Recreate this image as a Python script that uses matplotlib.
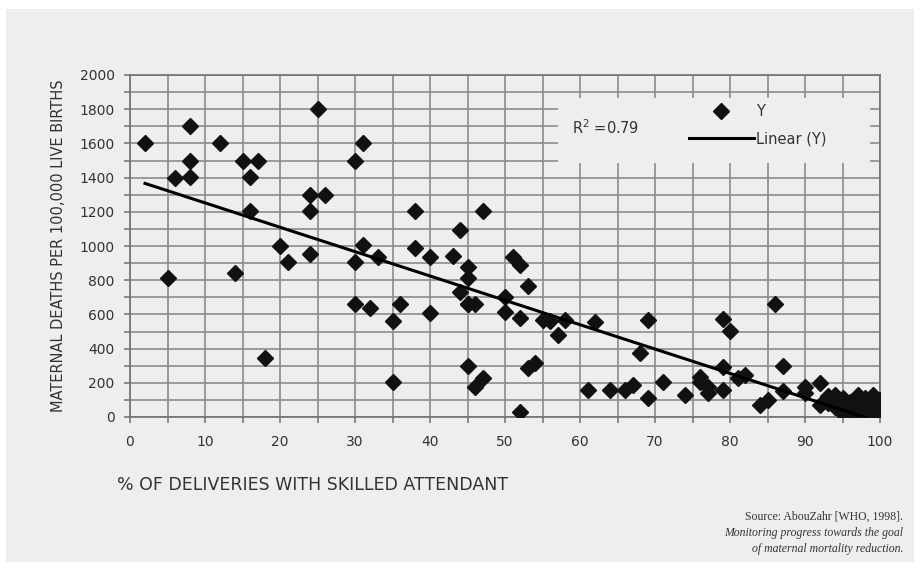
import numpy as np
import matplotlib
matplotlib.use("Agg")
import matplotlib.pyplot as plt
from matplotlib.lines import Line2D
from matplotlib.patches import Rectangle

# % of deliveries with skilled attendant vs maternal deaths per 100,000 live births
skilled = [2, 5, 6, 8, 8, 8, 12, 14, 15, 16, 16, 17, 18, 20, 21, 24, 24, 24, 25, 26,
           30, 30, 30, 31, 31, 32, 33, 35, 35, 36, 38, 38, 40, 40, 43, 44, 44,
           45, 45, 45, 45, 45, 46, 46, 47, 47, 50, 50, 51, 52, 52, 52, 53, 53, 54,
           55, 56, 57, 58, 61, 62, 64, 66, 67, 68, 69, 69, 71, 74,
           76, 76, 77, 77, 79, 79, 79, 80, 81, 82, 84, 85, 86, 87, 87,
           90, 90, 92, 92, 93, 93, 94, 94, 95, 95, 95, 96, 96, 96, 97, 97, 97,
           98, 98, 98, 99, 99, 99, 99, 100, 100, 100, 100]
deaths = [1600, 815, 1400, 1700, 1500, 1405, 1600, 840, 1500, 1405, 1207, 1500, 343, 1000, 905, 1300, 1207, 953, 1800, 1300,
          1500, 905, 659, 1600, 1006, 639, 938, 563, 207, 659, 1207, 990, 938, 610, 941, 1094, 733,
          879, 815, 659, 300, 660, 659, 177, 1207, 226, 703, 616, 938, 889, 577, 31, 766, 285, 314,
          567, 560, 482, 569, 156, 557, 156, 158, 187, 372, 567, 112, 207, 127,
          207, 236, 177, 140, 572, 290, 158, 502, 226, 246, 72, 99, 662, 301, 153,
          177, 140, 197, 68, 120, 80, 130, 60, 110, 40, 20, 90, 50, 10, 130, 70, 30,
          110, 50, 20, 130, 90, 40, 10, 100, 60, 30, 0]
r2_text = "R$^2$ =0.79"

bg = "#eeeeee"
grid_col = "#8c8c8c"
sans = ["Liberation Sans Narrow", "DejaVu Sans"]

fig = plt.figure(figsize=(9.22, 5.70), dpi=100)
fig.patch.set_facecolor("white")
fig.patches.append(Rectangle((6 / 922, 1 - 562 / 570), 908 / 922, 553 / 570,
                             transform=fig.transFigure, facecolor=bg,
                             edgecolor="none", zorder=-10))

ax = fig.add_axes([130 / 922, 1 - 417 / 570, 750 / 922, 342 / 570])
ax.set_zorder(1)
ax.set_facecolor(bg)
ax.set_axisbelow(True)

ax.set_xlim(0, 100)
ax.set_ylim(0, 2000)
ax.set_xticks(np.arange(0, 101, 10))
ax.set_xticks(np.arange(0, 101, 5), minor=True)
ax.set_yticks(np.arange(0, 2001, 200))
ax.set_yticks(np.arange(0, 2001, 100), minor=True)
ax.grid(True, which="both", color=grid_col, linewidth=1.2)

for s in ax.spines.values():
    s.set_color("#707070")
    s.set_linewidth(1.2)

ax.tick_params(axis="both", which="both", color="#707070", length=4, width=1.1)
ax.tick_params(axis="x", which="major", pad=9)
ax.tick_params(axis="y", which="major", pad=7)
for lab in ax.get_xticklabels() + ax.get_yticklabels():
    lab.set_family(sans)
    lab.set_fontsize(10)
    lab.set_color("#333333")

# blank area behind legend
ax.add_patch(Rectangle((0.571, 0.743), 0.416, 0.19, transform=ax.transAxes,
                       facecolor=bg, edgecolor="none", zorder=1))

x = np.array(skilled, dtype=float)
y = np.array(deaths, dtype=float)
ax.plot(x, y, linestyle="none", marker="D", markersize=8.5,
        color="#111111", zorder=3)

slope, intercept = np.polyfit(x, y, 1)
xl = np.array([x.min(), x.max()])
ax.plot(xl, slope * xl + intercept, color="black", linewidth=2.2, zorder=4)

ax.text(0.59, 0.845, r2_text, transform=ax.transAxes, family=sans,
        fontsize=10.5, color="#333333", va="center", ha="left", zorder=5)

handles = [Line2D([], [], linestyle="none", marker="D", markersize=8.5, color="#111111"),
           Line2D([], [], color="black", linewidth=2.2)]
leg = ax.legend(handles, ["Y", "Linear (Y)"], loc="upper left",
                bbox_to_anchor=(0.745, 0.915), frameon=False, borderpad=0,
                borderaxespad=0, handlelength=4.45, handletextpad=0.15,
                labelspacing=0.85, numpoints=1, prop={"family": sans, "size": 10.5})
for t in leg.get_texts():
    t.set_color("#333333")
leg.set_zorder(5)

ax.set_ylabel("MATERNAL DEATHS PER 100,000 LIVE BIRTHS", family=sans,
              fontsize=10.5, color="#333333", labelpad=10)

fig.text(117 / 922, 1 - 485 / 570, "% OF DELIVERIES WITH SKILLED ATTENDANT",
         family=sans, fontsize=12.5, color="#333333", ha="left", va="center")

fig.text(903 / 922, 1 - 517 / 570, "Source: AbouZahr [WHO, 1998].",
         family="Liberation Serif", fontsize=8.5, color="#333333", ha="right", va="center")
fig.text(903 / 922, 1 - 533 / 570, "Monitoring progress towards the goal",
         family="Liberation Serif", style="italic", fontsize=8.5, color="#333333",
         ha="right", va="center")
fig.text(903 / 922, 1 - 549 / 570, "of maternal mortality reduction.",
         family="Liberation Serif", style="italic", fontsize=8.5, color="#333333",
         ha="right", va="center")

fig.savefig("out.png", dpi=100, facecolor=fig.get_facecolor())
